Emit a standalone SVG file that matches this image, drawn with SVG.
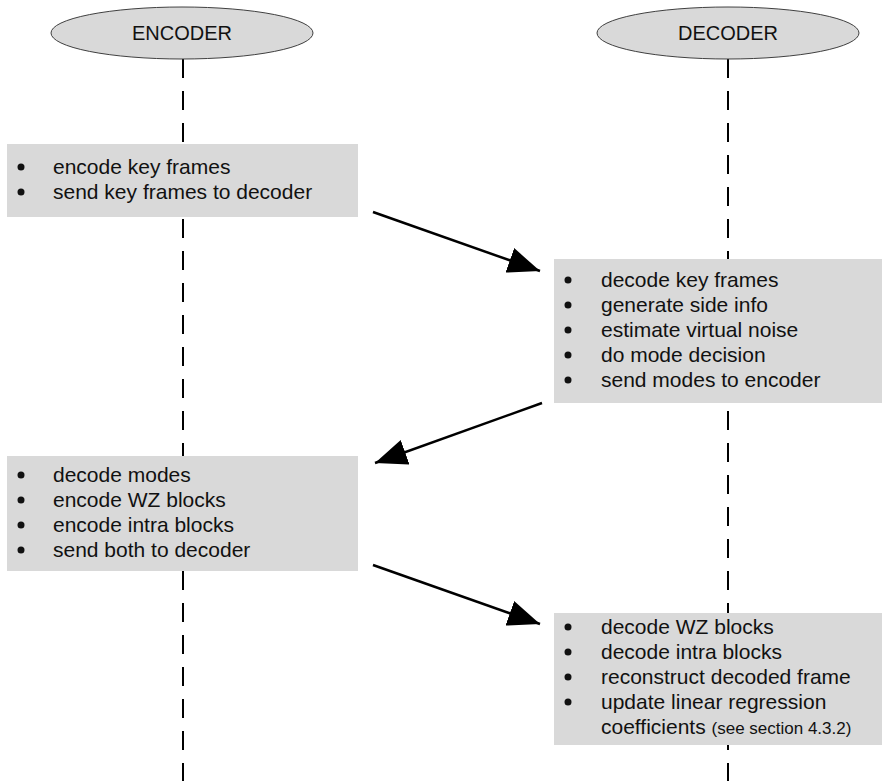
<svg xmlns="http://www.w3.org/2000/svg" width="893" height="781" viewBox="0 0 893 781">
<style>
.life{stroke:#000;stroke-width:2;stroke-dasharray:19 13;fill:none}
.actor{fill:#d9d9d9;stroke:#404040;stroke-width:1}
.box{fill:#d9d9d9}
.t{font-family:"Liberation Sans",Arial,sans-serif;font-size:21px;fill:#111}
.h{font-size:20px}
.s{font-size:17px}
.arrow{stroke:#000;stroke-width:2.5;fill:none;marker-end:url(#ah)}
</style>
<defs>
<marker id="ah" markerUnits="userSpaceOnUse" markerWidth="34" markerHeight="28" refX="32" refY="13" orient="auto">
<path d="M0,0 L32,13 L0,26 Z" fill="#000"/>
</marker>
</defs>
<rect width="893" height="781" fill="#fff"/>
<g id="lifelines">
<line class="life" x1="183" y1="59" x2="183" y2="781"/>
<line class="life" x1="728" y1="59" x2="728" y2="781"/>
</g>
<g id="encoder">
<ellipse class="actor" cx="182" cy="33" rx="131" ry="26"/>
<text class="t h" x="182" y="40" text-anchor="middle">ENCODER</text>
</g>
<g id="decoder">
<ellipse class="actor" cx="728" cy="33" rx="131" ry="26"/>
<text class="t h" x="728" y="40" text-anchor="middle">DECODER</text>
</g>
<g id="connectors">
<line class="arrow" x1="373" y1="212" x2="540" y2="271"/>
<line class="arrow" x1="542" y1="403" x2="375" y2="463"/>
<line class="arrow" x1="373" y1="565" x2="540" y2="624"/>
</g>
<g id="box1">
<rect class="box" x="7" y="144" width="351" height="73"/>
<g class="t">
<circle cx="21" cy="167" r="3.5"/><text x="53" y="174">encode key frames</text>
<circle cx="21" cy="192" r="3.5"/><text x="53" y="199">send key frames to decoder</text>
</g>
</g>
<g id="box2">
<rect class="box" x="554" y="259" width="328" height="144"/>
<g class="t">
<circle cx="568" cy="280" r="3.5"/><text x="601" y="287">decode key frames</text>
<circle cx="568" cy="305" r="3.5"/><text x="601" y="312">generate side info</text>
<circle cx="568" cy="330" r="3.5"/><text x="601" y="337">estimate virtual noise</text>
<circle cx="568" cy="355" r="3.5"/><text x="601" y="362">do mode decision</text>
<circle cx="568" cy="380" r="3.5"/><text x="601" y="387">send modes to encoder</text>
</g>
</g>
<g id="box3">
<rect class="box" x="7" y="456" width="351" height="115"/>
<g class="t">
<circle cx="21" cy="475" r="3.5"/><text x="53" y="482">decode modes</text>
<circle cx="21" cy="500" r="3.5"/><text x="53" y="507">encode WZ blocks</text>
<circle cx="21" cy="525" r="3.5"/><text x="53" y="532">encode intra blocks</text>
<circle cx="21" cy="550" r="3.5"/><text x="53" y="557">send both to decoder</text>
</g>
</g>
<g id="box4">
<rect class="box" x="554" y="613" width="328" height="132"/>
<g class="t">
<circle cx="568" cy="627" r="3.5"/><text x="601" y="634">decode WZ blocks</text>
<circle cx="568" cy="652" r="3.5"/><text x="601" y="659">decode intra blocks</text>
<circle cx="568" cy="677" r="3.5"/><text x="601" y="684">reconstruct decoded frame</text>
<circle cx="568" cy="702" r="3.5"/><text x="601" y="709">update linear regression</text>
<text x="601" y="734">coefficients <tspan class="s">(see section 4.3.2)</tspan></text>
</g>
</g>
</svg>
